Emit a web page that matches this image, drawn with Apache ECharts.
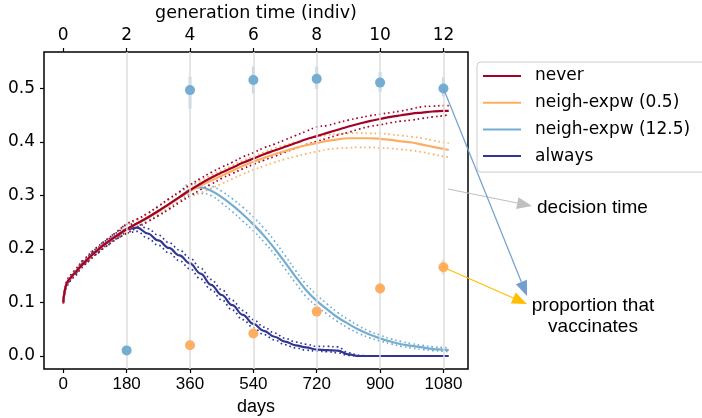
<!DOCTYPE html>
<html><head><meta charset="utf-8">
<script src="https://cdn.jsdelivr.net/npm/echarts@6/dist/echarts.min.js"></script>
<style>html,body{margin:0;padding:0;background:#fff}#c{width:702px;height:418px}</style>
</head><body><div id="c"></div>
<script>
// ---- data ----
const days = [0,10,30,60,90,120,150,180,210,240,270,300,330,360,390,420,450,480,510,540,570,600,630,660,690,720,750,780,810,840,870,900,930,960,990,1020,1050,1080,1095];

const never = [0.100,0.136,0.153,0.175,0.194,0.210,0.224,0.237, 0.248,0.259,0.271,0.284,0.297,0.310, 0.322,0.333,0.343,0.352,0.361,0.369, 0.377,0.384,0.391,0.398,0.405,0.411, 0.417,0.423,0.429,0.434,0.439,0.443, 0.447,0.450,0.453,0.455,0.457,0.458,0.458];
const neverUp = [0.102,0.140,0.158,0.181,0.200,0.216,0.231,0.247, 0.256,0.267,0.280,0.294,0.307,0.320, 0.332,0.343,0.353,0.362,0.372,0.380, 0.389,0.396,0.404,0.412,0.420,0.428, 0.431,0.436,0.441,0.445,0.449,0.452, 0.455,0.458,0.462,0.466,0.467,0.468,0.468];
const neverLo = [0.098,0.131,0.148,0.170,0.188,0.204,0.218,0.229, 0.240,0.251,0.262,0.274,0.287,0.299, 0.311,0.321,0.332,0.341,0.350,0.358, 0.366,0.373,0.381,0.388,0.395,0.401, 0.407,0.413,0.418,0.424,0.429,0.432, 0.436,0.439,0.441,0.444,0.447,0.449,0.451];

const neighLow = [0.100,0.136,0.153,0.175,0.194,0.210,0.224,0.237,0.248,0.259,0.270,0.283,0.296, 0.308,0.318,0.328,0.337,0.346,0.355, 0.363,0.370,0.377,0.383,0.389,0.394, 0.398,0.402,0.405,0.407,0.407,0.407, 0.406,0.404,0.401,0.399,0.395,0.391, 0.387,0.385];
const neighLowUp = [0.101,0.139,0.157,0.180,0.199,0.215,0.229,0.244, 0.254,0.266,0.279,0.292,0.305,0.318, 0.328,0.338,0.347,0.356,0.365,0.373, 0.381,0.388,0.394,0.400,0.405,0.409, 0.413,0.415,0.416,0.417,0.416,0.416, 0.414,0.412,0.410,0.407,0.403,0.399,0.398];
const neighLowLo = [0.099,0.132,0.149,0.171,0.189,0.205,0.219,0.231, 0.242,0.252,0.263,0.276,0.289,0.298, 0.305,0.313,0.322,0.331,0.340,0.348, 0.355,0.362,0.368,0.373,0.378,0.382, 0.386,0.388,0.389,0.390,0.390,0.389, 0.388,0.386,0.384,0.381,0.377,0.373,0.372];

const neighHigh = [0.100,0.136,0.153,0.175,0.194,0.210,0.224,0.237,0.248,0.259,0.271,0.284,0.297, 0.311,0.315,0.309,0.297,0.282,0.265, 0.246,0.225,0.201,0.175,0.148,0.123, 0.103,0.087,0.072,0.060,0.049,0.040, 0.033,0.027,0.022,0.019,0.016,0.013, 0.012,0.011];
const neighHighUp = [0.101,0.139,0.157,0.180,0.199,0.215,0.230,0.245, 0.255,0.266,0.279,0.293,0.306, 0.322,0.322,0.318,0.308,0.294,0.278, 0.260,0.239,0.215,0.188,0.160,0.134, 0.114,0.097,0.081,0.068,0.056,0.046, 0.039,0.032,0.027,0.023,0.020,0.017, 0.016,0.015];
const neighHighLo = [0.099,0.132,0.149,0.171,0.189,0.205,0.219,0.231, 0.242,0.253,0.264,0.277,0.290, 0.302,0.304,0.300,0.286,0.270,0.252, 0.234,0.213,0.190,0.163,0.136,0.111, 0.093,0.078,0.064,0.052,0.042,0.034, 0.028,0.023,0.018,0.015,0.012,0.010, 0.009,0.008];

const always = [0.100,0.136,0.153,0.175,0.194,0.210,0.224, 0.237,0.240,0.229,0.216,0.202,0.188, 0.173,0.154,0.133,0.114,0.095,0.077, 0.060,0.047,0.036,0.027,0.020,0.016, 0.012,0.011,0.010,0.003,0.000,0.000, 0,0,0,0,0,0, 0,0];
const alwaysUp = [0.101,0.139,0.157,0.180,0.199,0.215,0.230, 0.246,0.247,0.238,0.226,0.212,0.198, 0.183,0.164,0.143,0.124,0.104,0.085, 0.068,0.054,0.043,0.033,0.026,0.022, 0.018,0.018,0.017,0.006,0.001,0, 0,0,0,0,0,0, 0,0];
const alwaysLo = [0.099,0.132,0.149,0.171,0.189,0.205,0.219, 0.230,0.233,0.220,0.207,0.193,0.178, 0.163,0.144,0.124,0.105,0.086,0.068, 0.053,0.040,0.030,0.021,0.015,0.011, 0.009,0.008,0.006,0.001,0,0, 0,0,0,0,0,0, 0,0];

// proportion that vaccinates (at decision times, generation units)
const genBlue = [2,4,6,8,10,12];
const blueVals = [0.0105,0.497,0.516,0.518,0.511,0.500];
const blueLo = [0.005,0.462,0.491,0.499,0.494,0.485];
const blueHi = [0.016,0.522,0.541,0.541,0.531,0.521];
const genOrange = [4,6,8,10,12];
const orangeVals = [0.020,0.042,0.083,0.126,0.166];
const orangeLo = [0.015,0.035,0.075,0.116,0.152];
const orangeHi = [0.025,0.050,0.092,0.137,0.180];

// ticks
const dayTicks = [0,180,360,540,720,900,1080];
const genTicks = [0,2,4,6,8,10,12];
const yTicks = [0,0.1,0.2,0.3,0.4,0.5];
const decisionDays = [180,360,540,720,900,1080];

const names = ['never','neigh-expw (0.5)','neigh-expw (12.5)','always'];
const colors = ['#a50026','#fdae61','#74add1','#313695'];

// ---- chart ----
const chart = echarts.init(document.getElementById('c'), null, {renderer:'canvas'});
const DV = "'DejaVu Sans', sans-serif";
const LS = "'Liberation Sans', Arial, sans-serif";
const pairs = v => days.map((d,i)=>[d, v[i]]);

const mains = [never, neighLow, neighHigh, always];
const ups = [neverUp, neighLowUp, neighHighUp, alwaysUp];
const los = [neverLo, neighLowLo, neighHighLo, alwaysLo];

const series = [];
series.push({type:'line', name:'grid', data:[], silent:true, z:1,
  markLine:{silent:true, symbol:['none','none'], label:{show:false},
    lineStyle:{color:'#dcdcdc', width:1.5, type:'solid'},
    data: decisionDays.map(d=>({xAxis:d}))}});
[3,2,1,0].forEach(k=>{
  [ups[k], los[k]].forEach((arr,j)=>{
    series.push({type:'line', name:names[k]+(j?'_lo':'_up'), data:pairs(arr), showSymbol:false,
      smooth:0.4, smoothMonotone: k===3 ? 'x' : undefined, silent:true, z:2,
      lineStyle:{color:colors[k], width:1.7, type:[1.6,3]}, itemStyle:{color:colors[k]}});
  });
});
[3,2,1,0].forEach(k=>{
  series.push({type:'line', name:names[k], data:pairs(mains[k]), showSymbol:false,
    smooth:0.4, smoothMonotone: k===3 ? 'x' : undefined, silent:true, z:3,
    lineStyle:{color:colors[k], width:2.2}, itemStyle:{color:colors[k]}});
});
function errSeries(g, lo, hi, col){
  return {type:'custom', xAxisIndex:1, yAxisIndex:0, silent:true, z:4,
    data: g.map((x,i)=>[x, lo[i], hi[i]]), encode:{x:0, y:[1,2]},
    renderItem:(p,api)=>{
      const a = api.coord([api.value(0), api.value(1)]);
      const b = api.coord([api.value(0), api.value(2)]);
      return {type:'line', shape:{x1:a[0],y1:a[1],x2:b[0],y2:b[1]}, style:{stroke:col, lineWidth:3}};
    }};
}
series.push(errSeries(genBlue, blueLo, blueHi, 'rgba(116,173,209,0.45)'));
series.push(errSeries(genOrange, orangeLo, orangeHi, 'rgba(253,174,97,0.45)'));
series.push({type:'scatter', name:'pv12.5', xAxisIndex:1, yAxisIndex:0, data: genBlue.map((g,i)=>[g, blueVals[i]]),
  symbolSize:10, itemStyle:{color:'#74add1', opacity:1}, silent:true, z:5});
series.push({type:'scatter', name:'pv0.5', xAxisIndex:1, yAxisIndex:0, data: genOrange.map((g,i)=>[g, orangeVals[i]]),
  symbolSize:10, itemStyle:{color:'#fdae61', opacity:1}, silent:true, z:5});

const xmin = -54.75, xmax = 1149.75;
chart.setOption({
  animation:false,
  backgroundColor:'#fff',
  grid:{left:44, top:52, width:424, height:317, show:true, borderColor:'#000', borderWidth:1.5, backgroundColor:'transparent',
    containLabel:false, outerBoundsMode:'none'},
  legend:{show:true, data:names, orient:'vertical', left:477, top:62, padding:[4,40,6,6],
    itemWidth:38, itemHeight:2, itemGap:6.7, icon:'rect',
    backgroundColor:'#fff', borderColor:'#cccccc', borderWidth:1, borderRadius:4,
    textStyle:{fontFamily:DV, fontSize:17, color:'#000', lineHeight:20, padding:[0,0,0,9]}},
  xAxis:[
    {type:'value', position:'bottom', min:xmin, max:xmax,
      axisLine:{show:false, onZero:false},
      axisTick:{show:true, customValues:dayTicks, length:4, lineStyle:{color:'#000', width:1.2}},
      axisLabel:{customValues:dayTicks, formatter:v=>String(v), fontFamily:LS, fontSize:17, color:'#000', margin:7},
      splitLine:{show:false},
      name:'days', nameLocation:'middle', nameGap:28, nameTextStyle:{fontFamily:LS, fontSize:18, color:'#000'}},
    {type:'value', position:'top', min:xmin/90, max:xmax/90,
      axisLine:{show:false, onZero:false},
      axisTick:{show:true, customValues:genTicks, length:4, lineStyle:{color:'#000', width:1.2}},
      axisLabel:{customValues:genTicks, formatter:v=>String(v), fontFamily:DV, fontSize:17, color:'#000', margin:8},
      splitLine:{show:false},
      name:'generation time (indiv)', nameLocation:'middle', nameGap:28, nameTextStyle:{fontFamily:DV, fontSize:17.5, color:'#000'}}
  ],
  yAxis:[{type:'value', min:-0.0243, max:0.5682,
    axisLine:{show:false, onZero:false},
    axisTick:{show:true, customValues:yTicks, length:4, lineStyle:{color:'#000', width:1.2}},
    axisLabel:{customValues:yTicks, formatter:v=>Number(v).toFixed(1), fontFamily:DV, fontSize:17, color:'#000', margin:9},
    splitLine:{show:false}}],
  series: series
});

// annotations
function arrow(s, e, col, L, W){
  const dx = e[0]-s[0], dy = e[1]-s[1], len = Math.hypot(dx,dy);
  const ux = dx/len, uy = dy/len, bx = e[0]-ux*L, by = e[1]-uy*L;
  return [
    {type:'line', z:100, shape:{x1:s[0],y1:s[1],x2:bx,y2:by}, style:{stroke:col, lineWidth:1.2}},
    {type:'polygon', z:101, shape:{points:[[e[0],e[1]],[bx-uy*W,by+ux*W],[bx+uy*W,by-ux*W]]}, style:{fill:col}}
  ];
}
const pBlue = chart.convertToPixel({xAxisIndex:1, yAxisIndex:0}, [genBlue[5], blueVals[5]]);
const pOr = chart.convertToPixel({xAxisIndex:1, yAxisIndex:0}, [genOrange[4], orangeVals[4]]);
const g = [];
g.push(...arrow([448,189],[532,206],'#c0c0c0',15,6));
g.push(...arrow(pBlue,[527,296],'#729fcf',15,6));
g.push(...arrow(pOr,[527,304],'#ffbf00',15,6));
g.push({type:'text', z:102, x:537, y:198, style:{text:'decision time', font:"19px 'Liberation Sans', Arial, sans-serif", fill:'#000'}});
g.push({type:'text', z:102, x:593, y:295, style:{text:'proportion that\nvaccinates', font:"19px 'Liberation Sans', Arial, sans-serif", fill:'#000', align:'center', verticalAlign:'top', lineHeight:21}});
chart.setOption({graphic:g});
</script></body></html>
